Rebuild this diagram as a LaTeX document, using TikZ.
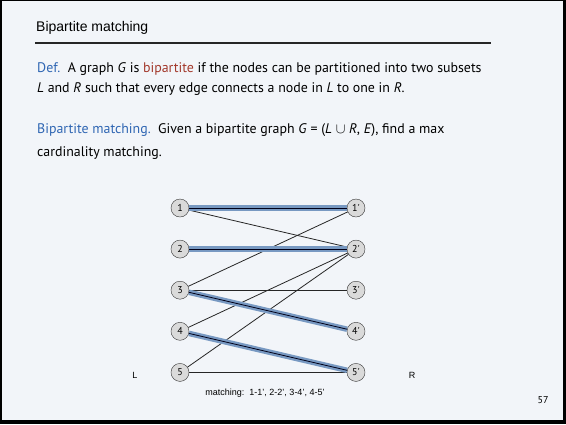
\documentclass[tikz,border=0pt]{standalone}
\usepackage{fontspec}
\setmainfont{Liberation Sans}
\newfontfamily\bodyfont{PT Sans}
\usetikzlibrary{positioning}
\definecolor{SlideBg}{HTML}{F2F5F9}
\definecolor{DefBlue}{HTML}{2F66B3}
\definecolor{TermRed}{HTML}{A3392C}
\definecolor{MatchBlue}{HTML}{7899C2}
\definecolor{NodeGray}{HTML}{DADADA}
\tikzset{
  vtx/.style={circle,draw=black!80,fill=NodeGray,minimum size=18pt,inner sep=0pt,
    font=\fontsize{10}{10}\bodyfont},
  plainedge/.style={black!85,line width=0.8pt},
  matchedge/.style={black!90!blue,line width=0.8pt,preaction={draw=MatchBlue,line width=5.5pt}},
  bodytext/.style={anchor=base west,inner sep=0pt,font=\fontsize{13.9}{13.9}\bodyfont}
}
\begin{document}
\begin{tikzpicture}[x=1pt,y=-1pt]
  % slide frame
  \fill[black] (0,0) rectangle (566,424);
  \fill[SlideBg] (2,1) rectangle (563,420);
  \node[anchor=base west,inner sep=0pt,font=\fontsize{14}{14}\selectfont] (title) at (36,31) {Bipartite matching};
  \draw[black!85,line width=1.2pt] (35,43) -- (491,43);
  % text
  \node[bodytext] (def1) at (37,72) {\textcolor{DefBlue}{Def.}\ \ A graph \emph{G} is \textcolor{TermRed}{bipartite} if the nodes can be partitioned into two subsets};
  \node[bodytext] (def2) at (37,92) {\emph{L} and \emph{R} such that every edge connects a node in \emph{L} to one in \emph{R}.};
  \node[bodytext] (prob1) at (37,133) {\textcolor{DefBlue}{Bipartite matching.}\ \ Given a bipartite graph \emph{G} = (\emph{L} $\cup$ \emph{R}, \emph{E}), find a max};
  \node[bodytext] (prob2) at (37,156.5) {cardinality matching.};
  % graph
  \foreach \i in {1,...,5} {
    \node[vtx] (l\i) at (180,{208+41.1*(\i-1)}) {\i};
    \node[vtx] (r\i) at (356,{208+41.1*(\i-1)}) {\i'};
  }
  \draw[plainedge] (l1) -- (r2);
  \draw[plainedge] (l3) -- (r1);
  \draw[plainedge] (l3) -- (r3);
  \draw[plainedge] (l4) -- (r2);
  \draw[plainedge] (l5) -- (r2);
  \draw[plainedge] (l5) -- (r5);
  \draw[matchedge] (l1) -- (r1);
  \draw[matchedge] (l2) -- (r2);
  \draw[matchedge] (l3) -- (r4);
  \draw[matchedge] (l4) -- (r5);
  \node[font=\fontsize{9}{9}\selectfont] (lside) at (135,375) {L};
  \node[font=\fontsize{9}{9}\selectfont] (rside) at (412,375) {R};
  \node[font=\fontsize{9}{9}\selectfont] (cap) at (265,393) {matching:\ \ 1-1', 2-2', 3-4', 4-5'};
  \node[font=\fontsize{10}{10}\bodyfont] (pg) at (543,400) {57};
\end{tikzpicture}
\end{document}
